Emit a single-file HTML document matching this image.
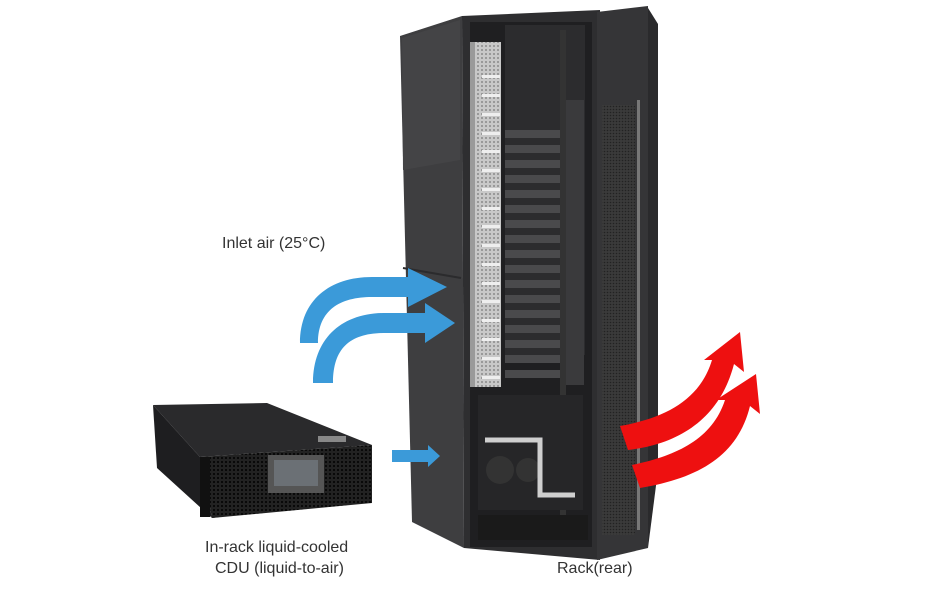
<!DOCTYPE html>
<html><head><meta charset="utf-8"><style>
html,body{margin:0;padding:0;background:#fff}
svg{display:block}
text{font-family:"Liberation Sans",sans-serif;fill:#333;font-size:16px}
</style></head><body>
<svg width="948" height="593" viewBox="0 0 948 593">
<defs>
<pattern id="perf" width="4" height="4" patternUnits="userSpaceOnUse"><rect width="4" height="4" fill="#c8c8c8"/><circle cx="2" cy="2" r="1" fill="#8a8a8a"/></pattern>
<pattern id="mesh" width="3" height="3" patternUnits="userSpaceOnUse"><rect width="3" height="3" fill="#3a3a3a"/><circle cx="1.5" cy="1.5" r="0.8" fill="#222"/></pattern>
<pattern id="cduperf" width="4" height="4" patternUnits="userSpaceOnUse"><rect width="4" height="4" fill="#222"/><circle cx="2" cy="2" r="1" fill="#000"/></pattern>
</defs>
<!-- Rack side panel -->
<polygon points="400,36 462,16 464,548 412,522" fill="#3e3e40"/>
<polygon points="402,38 460,20 460,160 403,170" fill="#444446"/>
<line x1="403" y1="268" x2="461" y2="278" stroke="#2b2b2d" stroke-width="2"/>
<!-- Front frame -->
<polygon points="462,16 600,10 600,560 464,548" fill="#2e2e30"/>
<rect x="470" y="22" width="122" height="525" fill="#1f1f21"/>
<rect x="505" y="25" width="80" height="330" fill="#2c2c2e"/>
<!-- left perforated panel -->
<rect x="473" y="42" width="28" height="345" fill="url(#perf)"/>
<rect x="470" y="42" width="5" height="345" fill="#9a9a9a"/>
<g fill="#eee">
<rect x="482" y="75" width="18" height="3"/><rect x="482" y="94" width="18" height="3"/><rect x="482" y="113" width="18" height="3"/><rect x="482" y="132" width="18" height="3"/><rect x="482" y="150" width="18" height="3"/><rect x="482" y="169" width="18" height="3"/><rect x="482" y="188" width="18" height="3"/><rect x="482" y="207" width="18" height="3"/><rect x="482" y="225" width="18" height="3"/><rect x="482" y="244" width="18" height="3"/><rect x="482" y="263" width="18" height="3"/><rect x="482" y="282" width="18" height="3"/><rect x="482" y="300" width="18" height="3"/><rect x="482" y="319" width="18" height="3"/><rect x="482" y="338" width="18" height="3"/><rect x="482" y="357" width="18" height="3"/><rect x="482" y="376" width="18" height="3"/>
</g>
<!-- slats -->
<g fill="#4a4a4c">
<rect x="505" y="130" width="62" height="8"/><rect x="505" y="145" width="62" height="8"/><rect x="505" y="160" width="62" height="8"/><rect x="505" y="175" width="62" height="8"/><rect x="505" y="190" width="62" height="8"/><rect x="505" y="205" width="62" height="8"/><rect x="505" y="220" width="62" height="8"/><rect x="505" y="235" width="62" height="8"/><rect x="505" y="250" width="62" height="8"/><rect x="505" y="265" width="62" height="8"/><rect x="505" y="280" width="62" height="8"/><rect x="505" y="295" width="62" height="8"/><rect x="505" y="310" width="62" height="8"/><rect x="505" y="325" width="62" height="8"/><rect x="505" y="340" width="62" height="8"/><rect x="505" y="355" width="62" height="8"/><rect x="505" y="370" width="62" height="8"/>
</g>
<rect x="566" y="100" width="18" height="285" fill="#3a3a3c"/>
<rect x="560" y="30" width="6" height="500" fill="#333"/>
<!-- bottom pipes -->
<rect x="478" y="395" width="105" height="115" fill="#262628"/>
<circle cx="500" cy="470" r="14" fill="#333"/><circle cx="528" cy="470" r="12" fill="#333"/>
<path d="M485 440 H540 V495 H575" fill="none" stroke="#cfcfcf" stroke-width="5"/>
<rect x="478" y="515" width="110" height="25" fill="#1a1a1a"/>
<!-- door -->
<polygon points="597,12 648,6 648,548 597,560" fill="#353537"/>
<rect x="602" y="105" width="33" height="430" fill="url(#mesh)"/>
<rect x="637" y="100" width="3" height="430" fill="#777"/>
<polygon points="648,8 658,24 658,470 648,548" fill="#2a2a2c"/>
<!-- blue arrows -->
<g fill="#3b9ad9">
<path d="M300,343 L318,343 C318,310 340,297 372,297 L408,297 L408,307 L447,287 L408,268 L408,277 L372,277 C330,277 300,300 300,343 Z"/>
<path d="M313,383 L333,383 C333,348 350,333 385,333 L425,333 L425,343 L455,323 L425,303 L425,313 L385,313 C340,313 313,340 313,383 Z"/>
<path d="M392,450 L428,450 L428,445 L440,456 L428,467 L428,462 L392,462 Z"/>
</g>
<!-- red arrows -->
<g fill="#ee1010">
<path d="M620,426 C665,418 700,400 712,360 L704,360 L740,332 L744,372 L734,364 C720,418 680,444 628,450 Z"/>
<path d="M632,465 C675,456 712,440 725,400 L716,400 L756,374 L760,414 L750,406 C738,455 700,478 640,488 Z"/>
</g>
<!-- CDU -->
<polygon points="153,405 267,403 372,445 200,457" fill="#2a2a2c"/>
<polygon points="153,405 200,457 212,518 157,468" fill="#1e1e20"/>
<polygon points="200,457 372,445 372,503 212,518" fill="url(#cduperf)"/>
<rect x="200" y="457" width="10" height="60" fill="#111"/>
<rect x="268" y="455" width="56" height="38" fill="#555"/>
<rect x="274" y="460" width="44" height="26" fill="#6b7075"/>
<rect x="318" y="436" width="28" height="6" fill="#888"/>
<!-- labels -->
<text x="222" y="248">Inlet air (25°C)</text>
<text x="205" y="552">In-rack liquid-cooled</text>
<text x="215" y="573">CDU (liquid-to-air)</text>
<text x="557" y="573">Rack(rear)</text>
</svg>
</body></html>
